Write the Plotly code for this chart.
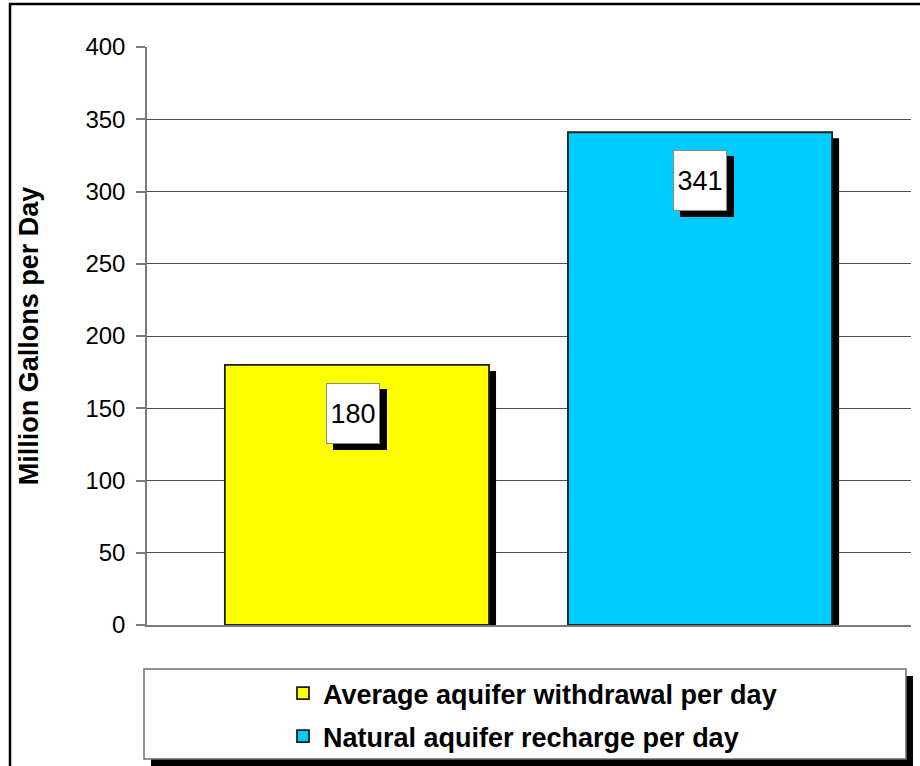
import plotly.graph_objects as go

# Aquifer balance data (million gallons per day)
series_names = ["Average aquifer withdrawal per day", "Natural aquifer recharge per day"]
series_values = [180, 341]
series_colors = ["#FFFF00", "#00CCFF"]
y_tick_values = [0, 50, 100, 150, 200, 250, 300, 350, 400]
y_axis_title = "Million Gallons per Day"

W, H = 920, 766
M_L, M_R, M_T, M_B = 147, 9, 47, 141
PW, PH = W - M_L - M_R, H - M_T - M_B

X_RANGE = [-0.612, 1.615]
Y_RANGE = [0, 400]
BAR_W = 0.77
SHADOW_DX, SHADOW_DY = 7, 6  # pixels

px_per_x = PW / (X_RANGE[1] - X_RANGE[0])
px_per_y = PH / (Y_RANGE[1] - Y_RANGE[0])


def paper_x(p):
    return (p - M_L) / PW


def paper_y(p):
    return 1 - (p - M_T) / PH


fig = go.Figure()

# drop shadows behind the bars
for name, val in zip(series_names, series_values):
    fig.add_trace(go.Bar(
        x=[name], y=[val], base=[-SHADOW_DY / px_per_y],
        width=[BAR_W], offset=[-BAR_W / 2 + SHADOW_DX / px_per_x],
        marker=dict(color="black", line=dict(width=0)),
        showlegend=False, hoverinfo="skip", cliponaxis=False,
    ))

# the bars themselves
for i, (name, val, col) in enumerate(zip(series_names, series_values, series_colors)):
    fig.add_trace(go.Bar(
        x=[name], y=[val], width=[BAR_W], name=name,
        marker=dict(color=col, line=dict(color="#1e1e1e", width=1.8)),
        legendgroup=f"g{i}", cliponaxis=False,
    ))

# value labels: white boxes with a black drop shadow
label_font = dict(family="Liberation Sans, Arial, sans-serif", size=27, color="black")
label_dx = [-4, 0]
annotations = []
for name, val, dx in zip(series_names, series_values, label_dx):
    common = dict(x=name, y=val, xref="x", yref="y",
                  showarrow=False, yanchor="top", width=52, height=59,
                  borderpad=0, borderwidth=1, font=label_font)
    annotations.append(dict(common, text=" ", xshift=dx + SHADOW_DX,
                            yshift=-18 - SHADOW_DY,
                            bgcolor="black", bordercolor="black"))
    annotations.append(dict(common, text=str(val), xshift=dx, yshift=-18,
                            bgcolor="white", bordercolor="#8c8c70"))

shapes = [
    # outer frame
    dict(type="rect", xref="paper", yref="paper", layer="below",
         x0=paper_x(10), x1=paper_x(940), y0=paper_y(4), y1=paper_y(790),
         line=dict(color="black", width=2.5), fillcolor="rgba(0,0,0,0)"),
    # legend box shadow
    dict(type="rect", xref="paper", yref="paper", layer="below",
         x0=paper_x(151), x1=paper_x(913), y0=paper_y(676), y1=paper_y(766),
         line=dict(width=0), fillcolor="black"),
    # legend box
    dict(type="rect", xref="paper", yref="paper", layer="below",
         x0=paper_x(144), x1=paper_x(906), y0=paper_y(669), y1=paper_y(759),
         line=dict(color="#6e6e6e", width=1.5), fillcolor="white"),
]

fig.update_layout(
    width=W, height=H,
    margin=dict(l=M_L, r=M_R, t=M_T, b=M_B, pad=0, autoexpand=False),
    paper_bgcolor="white", plot_bgcolor="white",
    barmode="overlay",
    showlegend=True,
    legend=dict(
        x=paper_x(283), y=paper_y(669), xanchor="left", yanchor="top",
        xref="paper", yref="paper",
        bgcolor="rgba(0,0,0,0)", borderwidth=0,
        font=dict(family="Liberation Sans, Arial, sans-serif", size=27, color="black",
                  weight="bold"),
        tracegroupgap=5, traceorder="grouped",
    ),
    font=dict(family="Liberation Sans, Arial, sans-serif", color="black"),
    annotations=annotations,
    shapes=shapes,
)

fig.update_xaxes(
    type="category", categoryorder="array", categoryarray=series_names,
    range=X_RANGE, showticklabels=False, ticks="",
    showline=True, linecolor="#7a7a7a", linewidth=1.5,
    showgrid=False, zeroline=False, layer="below traces",
)

fig.update_yaxes(
    range=Y_RANGE, tickvals=y_tick_values, ticks="outside", ticklen=9,
    tickcolor="#7a7a7a", tickwidth=1.5,
    showline=True, linecolor="#7a7a7a", linewidth=1.5,
    showgrid=True, gridcolor="#4d4d4d", gridwidth=1,
    zeroline=False, layer="below traces",
    tickfont=dict(family="Liberation Sans, Arial, sans-serif", size=24, color="black"),
    ticklabelstandoff=6,
    title=dict(text=y_axis_title, standoff=39,
               font=dict(family="Liberation Sans, Arial, sans-serif", size=27,
                         color="black", weight="bold")),
)

fig.write_html("out.html")
